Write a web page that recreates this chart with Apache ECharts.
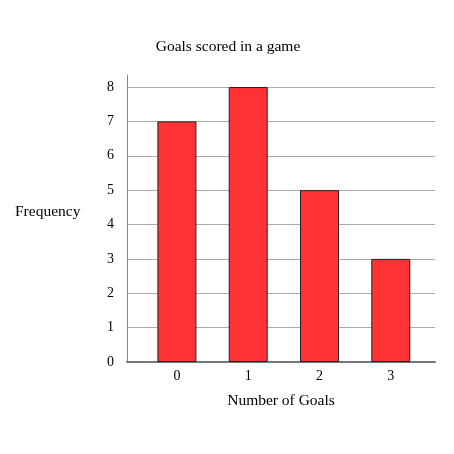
<!DOCTYPE html>
<html><head><meta charset="utf-8">
<script src="https://cdn.jsdelivr.net/npm/echarts@6/dist/echarts.min.js"></script>
<style>html,body{margin:0;padding:0;background:#fff}#c{width:454px;height:454px}</style>
</head><body><div id="c"></div>
<script>
var goals = [0, 1, 2, 3];
var frequency = [7, 8, 5, 3];
var yTicks = [0, 1, 2, 3, 4, 5, 6, 7, 8];
var font = '"Liberation Serif", "DejaVu Serif", serif';
var chart = echarts.init(document.getElementById('c'));
chart.setOption({
  animation: false,
  backgroundColor: '#fff',
  title: [
    {text: 'Goals scored in a game', left: 223, top: 34, textAlign: 'center',
     textStyle: {fontFamily: font, fontSize: 15.5, fontWeight: 'normal', color: '#000'}},
    {text: 'Frequency', left: 10, top: 199,
     textStyle: {fontFamily: font, fontSize: 15.5, fontWeight: 'normal', color: '#000'}}
  ],
  grid: {left: 127, right: 19, top: 75, bottom: 92},
  xAxis: {
    type: 'value', min: -0.7, max: 3.62,
    name: 'Number of Goals', nameLocation: 'middle', nameGap: 31,
    nameTextStyle: {fontFamily: font, fontSize: 15.5, color: '#000'},
    axisLine: {show: true, lineStyle: {color: '#777', width: 2}},
    axisTick: {show: false},
    splitLine: {show: false},
    axisLabel: {fontFamily: font, fontSize: 14, color: '#000', margin: 7,
      formatter: function (v) { return goals.indexOf(v) >= 0 ? String(v) : ''; }}
  },
  yAxis: {
    type: 'value', min: 0, max: 8.35, interval: 1,
    axisLine: {show: true, onZero: false, lineStyle: {color: '#888', width: 1}},
    axisTick: {show: false},
    splitLine: {show: true, showMaxLine: false, lineStyle: {color: '#aaa', width: 1}},
    axisLabel: {fontFamily: font, fontSize: 14, color: '#000', margin: 13, showMaxLabel: false,
      formatter: function (v) { return yTicks.indexOf(v) >= 0 ? String(v) : ''; }}
  },
  series: [{
    type: 'bar',
    barWidth: 39,
    data: goals.map(function (g, i) { return [g, frequency[i]]; }),
    itemStyle: {color: '#ff3333', borderColor: '#222', borderWidth: 1}
  }]
});
</script></body></html>
